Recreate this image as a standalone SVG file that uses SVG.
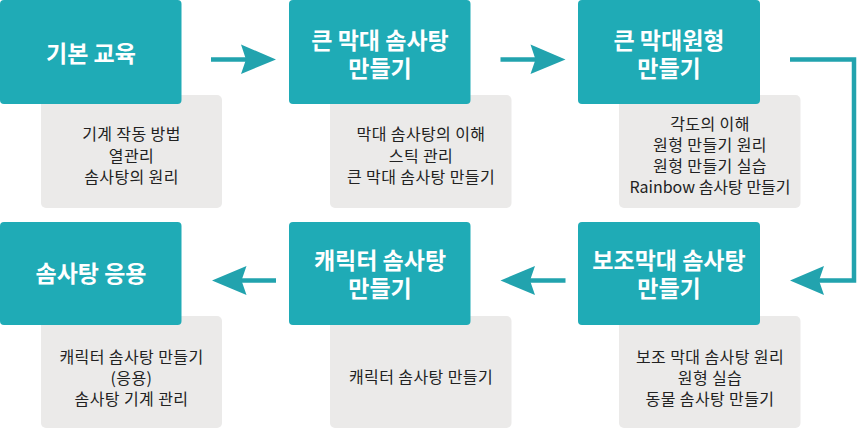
<svg xmlns="http://www.w3.org/2000/svg" width="857" height="430" viewBox="0 0 857 430">
<defs>
<style>
.step{fill:#1fabb6}
.note{fill:#ebeae9}
.t{font-family:"Noto Sans CJK KR","Noto Sans",sans-serif;font-size:23px;font-weight:700;fill:#ffffff;text-anchor:middle}
.n{font-family:"Noto Sans CJK KR","Noto Sans",sans-serif;font-size:16px;fill:#222222;text-anchor:middle;letter-spacing:0.4px}
.n.l{letter-spacing:0}
.ln{stroke:#22a3ae;stroke-width:4.5;fill:none}
.hd{fill:#22a3ae}
</style>
</defs>
<rect width="857" height="430" fill="#ffffff"/>
<g id="notes">
<g id="note1"><rect class="note" x="41" y="95" width="181" height="113" rx="5"/>
<text class="n" x="131.5" y="140">기계 작동 방법</text><text class="n" x="131.5" y="161.5">열관리</text><text class="n" x="131.5" y="183">솜사탕의 원리</text></g>
<g id="note2"><rect class="note" x="330" y="95" width="181.5" height="113" rx="5"/>
<text class="n" x="421" y="140">막대 솜사탕의 이해</text><text class="n" x="421" y="161.5">스틱 관리</text><text class="n" x="421" y="183">큰 막대 솜사탕 만들기</text></g>
<g id="note3"><rect class="note" x="619" y="95" width="181.5" height="113" rx="5"/>
<text class="n" x="710" y="130">각도의 이해</text><text class="n" x="710" y="151">원형 만들기 원리</text><text class="n" x="710" y="172">원형 만들기 실습</text><text class="n l" x="710" y="193">Rainbow 솜사탕 만들기</text></g>
<g id="note4"><rect class="note" x="41" y="316" width="181" height="112" rx="5"/>
<text class="n" x="131.5" y="363">캐릭터 솜사탕 만들기</text><text class="n" x="131.5" y="384">(응용)</text><text class="n" x="131.5" y="405">솜사탕 기계 관리</text></g>
<g id="note5"><rect class="note" x="330" y="316" width="181.5" height="112" rx="5"/>
<text class="n" x="421" y="383">캐릭터 솜사탕 만들기</text></g>
<g id="note6"><rect class="note" x="619" y="316" width="181.5" height="112" rx="5"/>
<text class="n" x="710" y="363">보조 막대 솜사탕 원리</text><text class="n" x="710" y="384">원형 실습</text><text class="n" x="710" y="405">동물 솜사탕 만들기</text></g>
</g>
<g id="step1"><rect class="step" x="0" y="0" width="181.5" height="104" rx="4"/><text class="t" x="91" y="62">기본 교육</text></g>
<g id="step2"><rect class="step" x="289" y="0" width="181.5" height="104" rx="4"/><text class="t" x="380" y="49">큰 막대 솜사탕</text><text class="t" x="380" y="76.5">만들기</text></g>
<g id="step3"><rect class="step" x="578" y="0" width="182" height="104" rx="4"/><text class="t" x="669" y="49">큰 막대원형</text><text class="t" x="669" y="76.5">만들기</text></g>
<g id="step4"><rect class="step" x="0" y="222" width="181.5" height="103" rx="4"/><text class="t" x="91" y="282">솜사탕 응용</text></g>
<g id="step5"><rect class="step" x="289" y="222" width="181.5" height="103" rx="4"/><text class="t" x="380" y="269">캐릭터 솜사탕</text><text class="t" x="380" y="296.5">만들기</text></g>
<g id="step6"><rect class="step" x="578" y="222" width="182" height="103" rx="4"/><text class="t" x="669" y="269">보조막대 솜사탕</text><text class="t" x="669" y="296.5">만들기</text></g>
<g id="connectors">
<line class="ln" x1="211" y1="59.5" x2="250" y2="59.5"/>
<polygon class="hd" points="276,59.5 241,44.5 246,59.5 241,74"/>
<line class="ln" x1="500.5" y1="59.5" x2="539" y2="59.5"/>
<polygon class="hd" points="565.5,59.5 530.5,44.5 535.5,59.5 530.5,74"/>
<polyline class="ln" points="790,59.5 854,59.5 854,280.5 814,280.5"/>
<polygon class="hd" points="790,280.5 824,266 819,280.5 824,295"/>
<line class="ln" x1="565.5" y1="280.5" x2="526" y2="280.5"/>
<polygon class="hd" points="500.5,280.5 535,266 530,280.5 535,295"/>
<line class="ln" x1="276" y1="280.5" x2="237" y2="280.5"/>
<polygon class="hd" points="212,280.5 246.5,266 241.5,280.5 246.5,295"/>
</g>
</svg>
